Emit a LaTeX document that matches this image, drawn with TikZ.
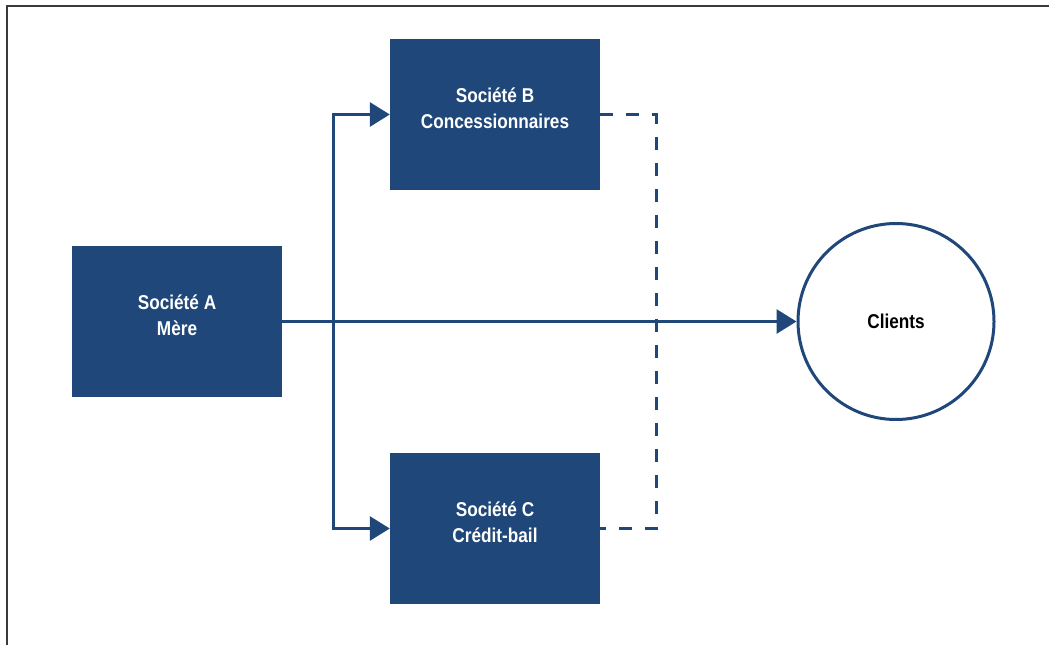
\documentclass[tikz,border=0pt]{standalone}
\usepackage{fontspec}
\setmainfont{Liberation Sans}[FakeStretch=0.86]
\usepackage{tikz}
\usetikzlibrary{positioning, arrows.meta, calc}
\definecolor{societyblue}{HTML}{1F4779}
\definecolor{framegray}{HTML}{3A3A3A}

\begin{document}
\begin{tikzpicture}[
        x=1pt, y=-1pt,
        company/.style={rectangle, fill=societyblue, minimum width=210pt, minimum height=151pt, inner sep=0pt, align=center, text=white, font=\fontsize{20}{26}\selectfont\bfseries},
        market/.style={circle, draw=societyblue, line width=3pt, fill=white, minimum size=196pt, inner sep=0pt, font=\fontsize{20}{26}\selectfont\bfseries},
        flow/.style={draw=societyblue, line width=3pt, -{Triangle[length=20pt, width=24pt]}},
        link/.style={draw=societyblue, line width=3pt, dash pattern=on 13pt off 13pt},
    ]
    \useasboundingbox (0,0) rectangle (1049,645);
    % Frame
    \draw[framegray, line width=2.2pt] (7,645) -- (7,6) -- (1049,6);

    % Companies
    \node[company] (A) at (177,321.5) {Société A\\Mère\\[-14pt]};
    \node[company] (B) at (495,114.5) {Société B\\Concessionnaires\\[-14pt]};
    \node[company] (C) at (495,528.5) {Société C\\Crédit-bail\\[-14pt]};
    \node[market] (clients) at (896,321.5) {Clients};

    % Flows
    \coordinate (split) at (333,321.5);
    \draw[flow] (A.east) -- (clients.west);
    \draw[flow] (split) |- (B.west);
    \draw[flow] (split) |- (C.west);
    \draw[link] (B.east) -- ++(56,0) |- (C.east);
\end{tikzpicture}
\end{document}
